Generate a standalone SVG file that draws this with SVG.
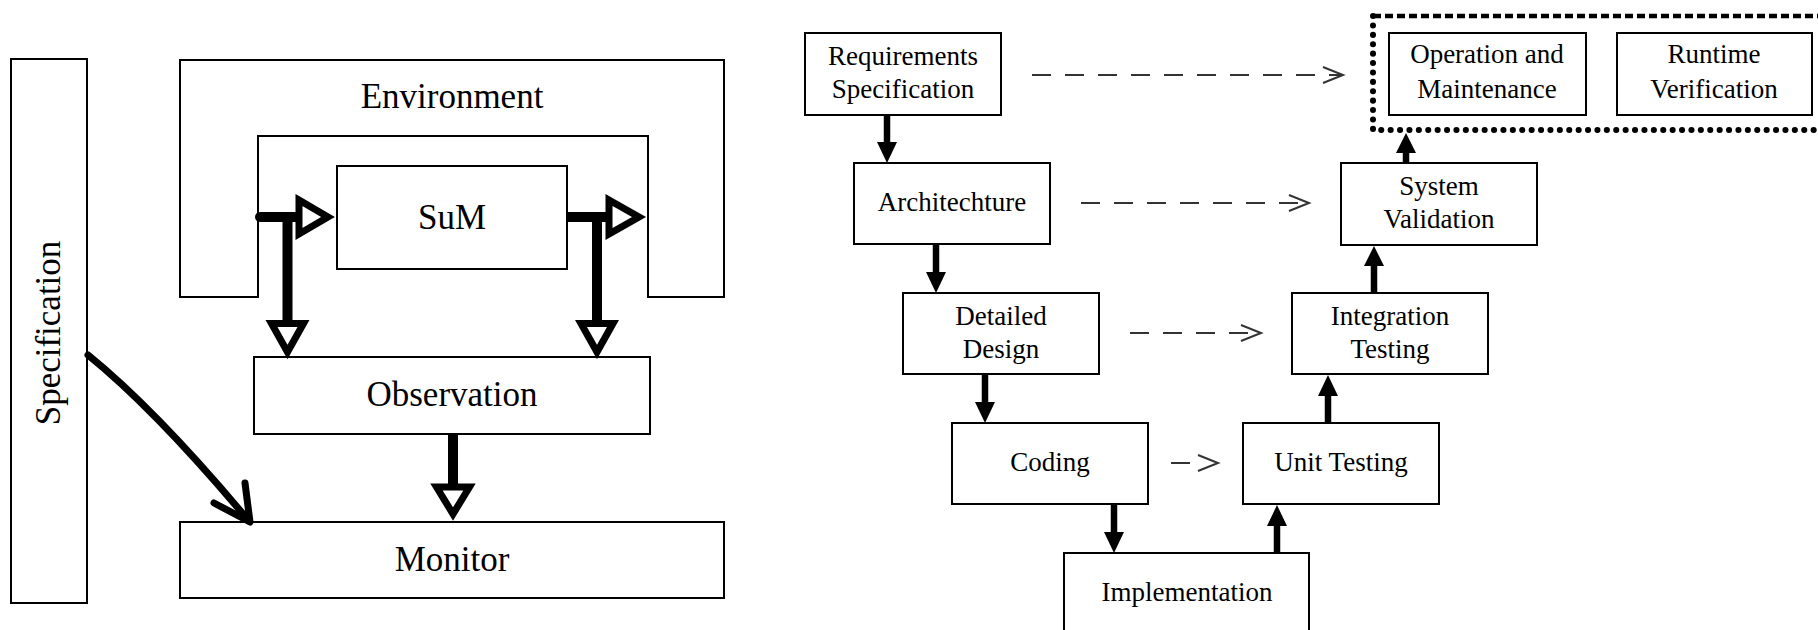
<svg xmlns="http://www.w3.org/2000/svg" width="1818" height="630" viewBox="0 0 1818 630">
  <style>
    .box { fill: #fff; stroke: #000; stroke-width: 2; }
    .lbl { font-family: "Liberation Serif", "Times New Roman", serif; fill: #000; text-anchor: middle; }
    .big { font-size: 35px; }
    .small { font-size: 27px; }
    .shaft { stroke: #000; fill: none; }
    .hollow { fill: #fff; stroke: #000; stroke-width: 7; stroke-linejoin: miter; }
    .solid { fill: #000; stroke: none; }
    .dash { stroke: #333; stroke-width: 2; fill: none; stroke-dasharray: 19 14; }
    .vee { stroke: #333; stroke-width: 2; fill: none; }
  </style>
  <rect width="1818" height="630" fill="#fff"/>

  <!-- ===== Runtime monitoring setup ===== -->
  <g id="specification">
    <rect class="box" x="11" y="59" width="76" height="544"/>
    <text class="lbl big" transform="translate(60,333) rotate(-90)">Specification</text>
  </g>
  <g id="environment">
    <path class="box" d="M180,60 H724 V297 H648 V136 H258 V297 H180 Z"/>
    <text class="lbl big" x="452" y="108">Environment</text>
  </g>
  <g id="sum">
    <rect class="box" x="337" y="166" width="230" height="103"/>
    <text class="lbl big" x="452" y="229">SuM</text>
  </g>
  <g id="observation">
    <rect class="box" x="254" y="357" width="396" height="77"/>
    <text class="lbl big" x="452" y="406">Observation</text>
  </g>
  <g id="monitor">
    <rect class="box" x="180" y="522" width="544" height="76"/>
    <text class="lbl big" x="452" y="571">Monitor</text>
  </g>

  <g id="monitor-connectors">
    <!-- input side: environment to SuM, tapped down to observation -->
    <path class="shaft" stroke-width="10" stroke-linecap="round" d="M260,217 H300"/>
    <path class="shaft" stroke-width="10" d="M287.5,217 V324"/>
    <polygon class="hollow" points="299,200 328,217 299,234"/>
    <polygon class="hollow" points="271.5,323.5 303.5,323.5 287.5,352"/>
    <!-- output side: SuM to environment, tapped down to observation -->
    <path class="shaft" stroke-width="10" d="M567,217 H610"/>
    <path class="shaft" stroke-width="10" d="M597,217 V324"/>
    <polygon class="hollow" points="609,200 639,217 609,234"/>
    <polygon class="hollow" points="581,323.5 613,323.5 597,352"/>
    <!-- observation to monitor -->
    <path class="shaft" stroke-width="10" d="M453,434 V488"/>
    <polygon class="hollow" points="436.5,487 469.5,487 453,514"/>
    <!-- specification to monitor -->
    <path class="shaft" stroke-width="7" stroke-linecap="round" d="M88,355 Q156,410 249,521"/>
    <path class="shaft" stroke-width="7" stroke-linecap="round" stroke-linejoin="round" d="M214,503 L250,522 L245,483"/>
  </g>

  <!-- ===== Development life cycle ===== -->
  <g id="operation-phase-group">
    <path d="M1373,16 H1818" stroke="#000" stroke-width="4.5" stroke-dasharray="8 4" fill="none"/>
    <path d="M1373,16 V130 H1818" stroke="#000" stroke-width="6" stroke-dasharray="0.1 9.3" stroke-linecap="round" fill="none"/>
  </g>
  <g id="requirements">
    <rect class="box" x="805" y="33" width="196" height="82"/>
    <text class="lbl small" x="903" y="65">Requirements</text>
    <text class="lbl small" x="903" y="98">Specification</text>
  </g>
  <g id="architecture">
    <rect class="box" x="854" y="163" width="196" height="81"/>
    <text class="lbl small" x="952" y="211">Architechture</text>
  </g>
  <g id="detailed-design">
    <rect class="box" x="903" y="293" width="196" height="81"/>
    <text class="lbl small" x="1001" y="325">Detailed</text>
    <text class="lbl small" x="1001" y="358">Design</text>
  </g>
  <g id="coding">
    <rect class="box" x="952" y="423" width="196" height="81"/>
    <text class="lbl small" x="1050" y="471">Coding</text>
  </g>
  <g id="implementation">
    <rect class="box" x="1064" y="553" width="245" height="84"/>
    <text class="lbl small" x="1187" y="601">Implementation</text>
  </g>
  <g id="unit-testing">
    <rect class="box" x="1243" y="423" width="196" height="81"/>
    <text class="lbl small" x="1341" y="471">Unit Testing</text>
  </g>
  <g id="integration-testing">
    <rect class="box" x="1292" y="293" width="196" height="81"/>
    <text class="lbl small" x="1390" y="325">Integration</text>
    <text class="lbl small" x="1390" y="358">Testing</text>
  </g>
  <g id="system-validation">
    <rect class="box" x="1341" y="163" width="196" height="82"/>
    <text class="lbl small" x="1439" y="195">System</text>
    <text class="lbl small" x="1439" y="228">Validation</text>
  </g>
  <g id="operation-maintenance">
    <rect class="box" x="1389" y="33" width="197" height="82"/>
    <text class="lbl small" x="1487" y="63">Operation and</text>
    <text class="lbl small" x="1487" y="98">Maintenance</text>
  </g>
  <g id="runtime-verification">
    <rect class="box" x="1617" y="33" width="195" height="82"/>
    <text class="lbl small" x="1714" y="63">Runtime</text>
    <text class="lbl small" x="1714" y="98">Verification</text>
  </g>

  <g id="lifecycle-connectors">
    <!-- descending branch -->
    <path class="shaft" stroke-width="6.5" d="M887,115 V143"/>
    <polygon class="solid" points="877,142 897,142 887,163"/>
    <path class="shaft" stroke-width="6.5" d="M936,244 V273"/>
    <polygon class="solid" points="926,272 946,272 936,293"/>
    <path class="shaft" stroke-width="6.5" d="M985,374 V403"/>
    <polygon class="solid" points="975,402 995,402 985,423"/>
    <path class="shaft" stroke-width="6.5" d="M1114,504 V533"/>
    <polygon class="solid" points="1104,532 1124,532 1114,553"/>
    <!-- ascending branch -->
    <path class="shaft" stroke-width="6.5" d="M1277,553 V525"/>
    <polygon class="solid" points="1267,526 1287,526 1277,505"/>
    <path class="shaft" stroke-width="6.5" d="M1328,423 V395"/>
    <polygon class="solid" points="1318,396 1338,396 1328,375"/>
    <path class="shaft" stroke-width="6.5" d="M1374,293 V265"/>
    <polygon class="solid" points="1364,266 1384,266 1374,246"/>
    <path class="shaft" stroke-width="6.5" d="M1406,163 V151"/>
    <polygon class="solid" points="1396,153 1416,153 1406,133"/>
    <!-- verification correspondences -->
    <path class="dash" d="M1032,75 H1342"/>
    <path class="vee" d="M1323,67 L1343,75 L1323,83"/>
    <path class="dash" d="M1081,203 H1307"/>
    <path class="vee" d="M1289,195 L1309,203 L1289,211"/>
    <path class="dash" d="M1130,333 H1259"/>
    <path class="vee" d="M1241,325 L1261,333 L1241,341"/>
    <path class="dash" d="M1171,463 H1191"/>
    <path class="vee" d="M1198,455 L1218,463 L1198,471"/>
  </g>
</svg>
